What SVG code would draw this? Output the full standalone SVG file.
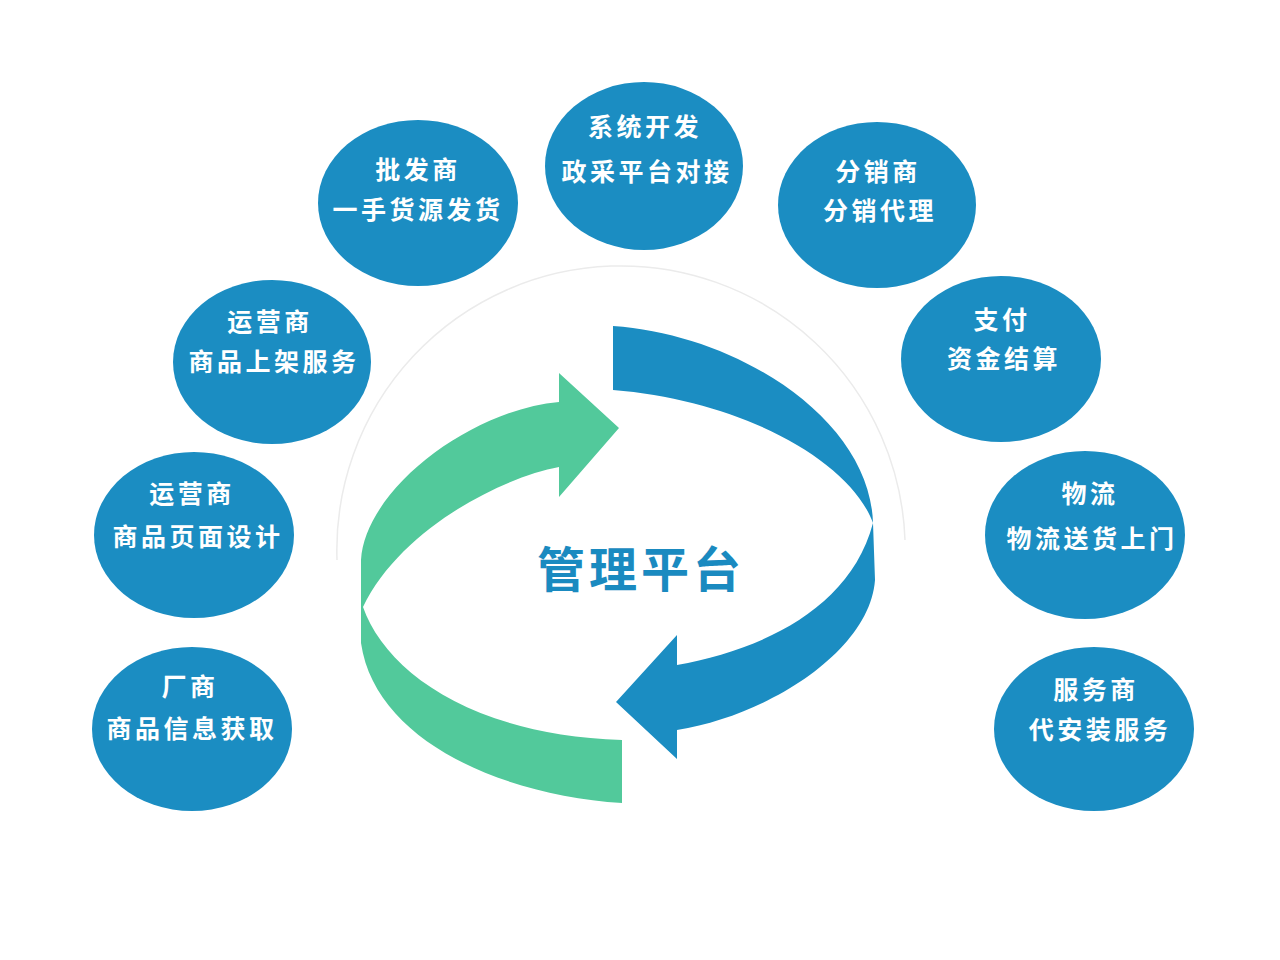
<svg xmlns="http://www.w3.org/2000/svg" width="1280" height="960" viewBox="0 0 1280 960">
  <style>
    .node ellipse { fill: #1b8dc2; }
    .node text { fill: #ffffff; font-family: "Noto Sans CJK SC", "Noto Sans", sans-serif; font-weight: 700; font-size: 25px; letter-spacing: 3.5px; text-anchor: middle; dominant-baseline: central; }
    .title { fill: #1a8ac0; font-family: "Noto Sans CJK SC", "Noto Sans", sans-serif; font-weight: 700; font-size: 48px; letter-spacing: 4px; text-anchor: middle; dominant-baseline: central; }
  </style>
  <rect width="1280" height="960" fill="#ffffff"/>

  <!-- faint background circle -->
  <path d="M 337 560 A 284 284 0 0 1 905 540" fill="none" stroke="#ebebeb" stroke-width="1.5"/>

  <g id="cycle">
    <path id="green-arrow" fill="#52c99b" d="M 619 428 L 559 497 L 559 467 C 500 478 400 530 363 607 C 385 670 470 735 622 740 L 622 803 C 500 795 375 740 361 643 L 361 560 C 365 490 470 410 559 402 L 559 373 Z"/>
    <path id="blue-arrow" fill="#1b8dc2" d="M 613 326 C 740 335 870 420 873 523 L 875 580 C 870 650 770 715 677 730 L 677 759 L 616 702 L 677 635 L 677 665 C 760 650 850 610 873 523 C 850 460 740 400 613 390 Z"/>
    <text class="title" x="641" y="566">管理平台</text>
  </g>

  <g id="node-system" class="node">
    <ellipse cx="644" cy="166" rx="99" ry="84"/>
    <text x="645" y="125">系统开发</text>
    <text x="647" y="170">政采平台对接</text>
  </g>
  <g id="node-wholesaler" class="node">
    <ellipse cx="418" cy="203" rx="100" ry="83"/>
    <text x="418" y="168">批发商</text>
    <text x="418" y="208">一手货源发货</text>
  </g>
  <g id="node-distributor" class="node">
    <ellipse cx="877" cy="205" rx="99" ry="83"/>
    <text x="878" y="170">分销商</text>
    <text x="880" y="209">分销代理</text>
  </g>
  <g id="node-operator1" class="node">
    <ellipse cx="272" cy="362" rx="99" ry="82"/>
    <text x="270" y="320">运营商</text>
    <text x="274" y="360">商品上架服务</text>
  </g>
  <g id="node-payment" class="node">
    <ellipse cx="1001" cy="359" rx="100" ry="83"/>
    <text x="1002" y="318">支付</text>
    <text x="1004" y="357">资金结算</text>
  </g>
  <g id="node-operator2" class="node">
    <ellipse cx="194" cy="535" rx="100" ry="83"/>
    <text x="192" y="492">运营商</text>
    <text x="198" y="535">商品页面设计</text>
  </g>
  <g id="node-logistics" class="node">
    <ellipse cx="1085" cy="535" rx="100" ry="84"/>
    <text x="1090" y="492">物流</text>
    <text x="1092" y="537">物流送货上门</text>
  </g>
  <g id="node-manufacturer" class="node">
    <ellipse cx="192" cy="729" rx="100" ry="82"/>
    <text x="190" y="685">厂商</text>
    <text x="192" y="727">商品信息获取</text>
  </g>
  <g id="node-service" class="node">
    <ellipse cx="1094" cy="729" rx="100" ry="82"/>
    <text x="1096" y="688">服务商</text>
    <text x="1100" y="728">代安装服务</text>
  </g>
</svg>
